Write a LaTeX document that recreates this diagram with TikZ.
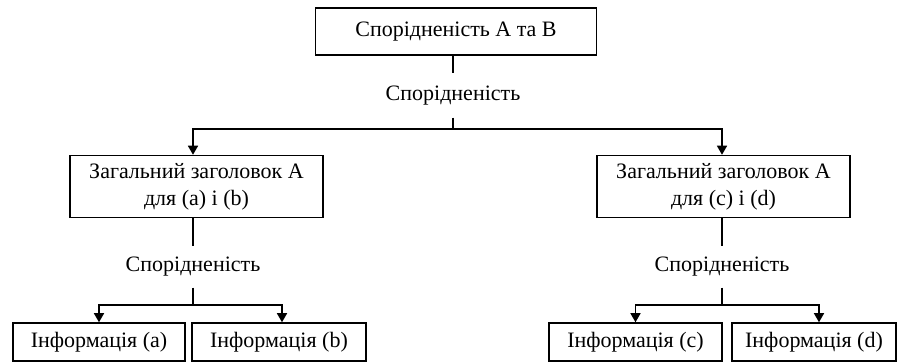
\documentclass[tikz,border=0pt]{standalone}
\usepackage{fontspec}
\setmainfont{Liberation Serif}
\usetikzlibrary{arrows.meta,calc}
\begin{document}
\begin{tikzpicture}[x=1pt,y=-1pt,
  box/.style={draw,line width=1.5pt,inner sep=0pt,align=center,font=\fontsize{22}{27}\selectfont},
  lbl/.style={inner sep=0pt,font=\fontsize{22}{27}\selectfont},
  conn/.style={line width=1.4pt},
  arr/.style={conn,-{Triangle[length=9pt,width=10pt]}}]
\useasboundingbox (0,0) rectangle (897,363);
\node[box,minimum width=281,minimum height=47] (top) at (456,31.5) {Спорідненість А та В};
\node[lbl,minimum height=44] (r1) at (453,95.5) {Спорідненість};
\node[box,minimum width=253,minimum height=62] (L) at (196.5,186.5) {Загальний заголовок А\\для (a) і (b)};
\node[box,minimum width=253,minimum height=62] (R) at (723.5,186.5) {Загальний заголовок А\\для (c) і (d)};
\node[lbl,minimum height=41] (r2) at (193,267) {Спорідненість};
\node[lbl,minimum height=41] (r3) at (722,267) {Спорідненість};
\node[box,minimum width=172,minimum height=38] (a) at (99,342) {Інформація (a)};
\node[box,minimum width=174,minimum height=38] (b) at (279,342) {Інформація (b)};
\node[box,minimum width=173,minimum height=38] (c) at (635.5,342) {Інформація (c)};
\node[box,minimum width=164,minimum height=38] (d) at (814,342) {Інформація (d)};
\coordinate (j1) at (453,129);
\coordinate (j2) at (193,305);
\coordinate (j3) at (722,305);
\draw[conn] (top.south -| r1.north) -- (r1.north);
\draw[conn] (r1.south) -- (j1);
\draw[arr] (j1) -| ([xshift=-3.5pt]L.north);
\draw[arr] (j1) -| ([xshift=-1.5pt]R.north);
\draw[conn] (L.south -| r2.north) -- (r2.north);
\draw[conn] (r2.south) -- (j2);
\draw[arr] (j2) -| (a.north);
\draw[arr] (j2) -| ([xshift=3pt]b.north);
\draw[conn] (R.south -| r3.north) -- (r3.north);
\draw[conn] (r3.south) -- (j3);
\draw[arr] (j3) -| (c.north);
\draw[arr] (j3) -| ([xshift=5pt]d.north);
\end{tikzpicture}
\end{document}
